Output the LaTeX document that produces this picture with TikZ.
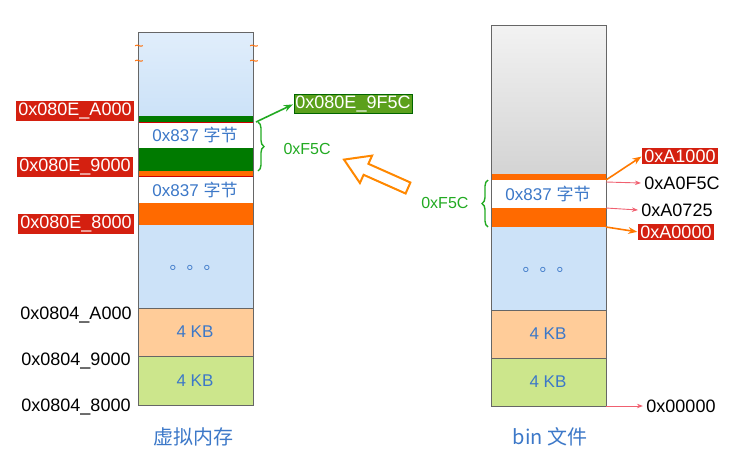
\documentclass[tikz,border=0pt]{standalone}
\usepackage{fontspec}
\setmainfont{Liberation Sans}
\newfontfamily\cjk{Noto Sans CJK SC}
\usetikzlibrary{decorations.pathreplacing,arrows.meta}
\definecolor{lblue}{HTML}{CCE2F8}
\definecolor{tblue}{HTML}{3C78C8}
\definecolor{dgreen}{HTML}{007A00}
\definecolor{orng}{HTML}{FF6A00}
\definecolor{peach}{HTML}{FFCC99}
\definecolor{lgreen}{HTML}{CCE68C}
\definecolor{redbox}{HTML}{D42010}
\definecolor{gbox}{HTML}{5CA01C}
\definecolor{gtxt}{HTML}{22AA22}
\definecolor{pinkar}{HTML}{F06070}
\tikzset{
 blk/.style={draw=black!60,line width=0.6pt},
 redlab/.style={fill=redbox,text=white,inner sep=2pt,font=\fontsize{18}{18}\selectfont},
 blab/.style={font=\fontsize{18}{18}\selectfont},
 btxt/.style={text=tblue,font=\fontsize{17}{17}\selectfont},
 garr/.style={-{Stealth[length=9pt]},gtxt,line width=1.6pt,shorten >=1pt},
 oarr/.style={-{Stealth[length=9pt]},orng!90!yellow,line width=1.6pt,shorten >=1pt},
 parr/.style={-{Stealth[length=6pt]},pinkar,line width=0.9pt},
 tild/.style={text=orng,font=\fontsize{16}{16}\selectfont,inner sep=0pt},
}
\begin{document}
\begin{tikzpicture}[x=1pt,y=-1pt]
\useasboundingbox (0,0) rectangle (750,475);
% left column
\shade[top color=lblue!60,bottom color=lblue] (138,32) rectangle (253,116);
\fill[dgreen] (138,116) rectangle (253,122);
\fill[white] (138,122) rectangle (253,148);
\draw[red!80!black,line width=0.5pt] (138,122) rectangle (253,148);
\fill[dgreen] (138,148) rectangle (253,171);
\fill[orng] (138,171) rectangle (253,176);
\fill[white] (138,176) rectangle (253,203);
\draw[red!80!black,line width=0.5pt] (138,176) rectangle (253,203);
\fill[orng] (138,203) rectangle (253,225);
\fill[lblue] (138,225) rectangle (253,308);
\fill[peach] (138,308) rectangle (253,356);
\fill[lgreen] (138,356) rectangle (253,405);
\draw[blk] (138,32) rectangle (253,405);
\draw[blk] (138,308) -- (253,308) (138,356) -- (253,356);
\foreach \yy in {48,63}{\node[tild] at (139,\yy) {\char"007E};\node[tild] at (254,\yy) {\char"007E};}
\node[btxt] (l1) at (195,135) {0x837 {\cjk 字节}};
\node[btxt] (l2) at (195,190) {0x837 {\cjk 字节}};
\node[btxt] (ld) at (195,268) {{\cjk 。。。}};
\node[btxt] (l4a) at (195,332) {4 KB};
\node[btxt] (l4b) at (195,381) {4 KB};
% left labels
\node[redlab] (a1) at (75,111) {0x080E\_A000};
\node[redlab] (a2) at (75,167) {0x080E\_9000};
\node[redlab] (a3) at (76,224) {0x080E\_8000};
\node[blab] (b1) at (76,315) {0x0804\_A000};
\node[blab] (b2) at (76,361) {0x0804\_9000};
\node[blab] (b3) at (76,407) {0x0804\_8000};
\node[fill=gbox,text=white,inner sep=1.5pt,font=\fontsize{18}{18}\selectfont,draw=green!40!black,line width=0.4pt] (g1) at (353,104) {0x080E\_9F5C};
\coordinate (gs) at (256,122);
\draw[garr] (gs) -- (g1.west);
\draw[gtxt,line width=1.4pt,decorate,decoration={brace,amplitude=6pt}] (258,122) -- (258,171);
\node[text=gtxt,font=\fontsize{16}{16}\selectfont,anchor=west] (f1) at (280,149) {0xF5C};
% hollow arrow
\draw[orng!80!yellow,line width=2pt,fill=white,line join=miter] (410.4,182.5) -- (368.4,163.8) -- (372.1,155.6) -- (344,159.6) -- (359.9,183.0) -- (363.6,174.8) -- (405.6,193.5) -- cycle;
% right column
\shade[top color=black!5,bottom color=black!17] (491,25) rectangle (606,174);
\fill[orng] (491,174) rectangle (606,180);
\fill[white] (491,180) rectangle (606,208);
\fill[orng] (491,208) rectangle (606,227);
\fill[lblue] (491,227) rectangle (606,310);
\fill[peach] (491,310) rectangle (606,358);
\fill[lgreen] (491,358) rectangle (606,406);
\draw[blk] (491,25) rectangle (606,406);
\draw[blk] (491,310) -- (606,310) (491,358) -- (606,358);
\node[btxt] (r1) at (548,194) {0x837 {\cjk 字节}};
\node[btxt] (rd) at (548,270) {{\cjk 。。。}};
\node[btxt] (r4a) at (548,334) {4 KB};
\node[btxt] (r4b) at (548,382) {4 KB};
\draw[gtxt,line width=1.4pt,decorate,decoration={brace,amplitude=6pt,mirror}] (488,180) -- (488,227);
\node[text=gtxt,font=\fontsize{16}{16}\selectfont,anchor=east] (f2) at (472,203) {0xF5C};
\node[redlab] (c1) at (680,156) {0xA1000};
\node[blab] (c2) at (682,183) {0xA0F5C};
\node[blab] (c3) at (677,210) {0xA0725};
\node[redlab] (c4) at (676,232) {0xA0000};
\node[blab] (c5) at (681,406) {0x00000};
\coordinate (o1) at (606,180);
\coordinate (o2) at (606,227);
\coordinate (p1) at (606,182);
\coordinate (p2) at (606,208);
\coordinate (p3) at (606,406);
\draw[oarr] (o1) -- (c1.west);
\draw[oarr] (o2) -- (c4.west);
\draw[parr] (p1) -- (c2.west);
\draw[parr] (p2) -- (c3.west);
\draw[parr] (p3) -- (c5.west);
% captions
\node[text=tblue,font=\fontsize{20}{20}\selectfont\cjk] (cap1) at (193,437) {虚拟内存};
\node[text=tblue,font=\fontsize{20}{20}\selectfont\cjk] (cap2) at (550,437) {bin 文件};
\end{tikzpicture}
\end{document}
